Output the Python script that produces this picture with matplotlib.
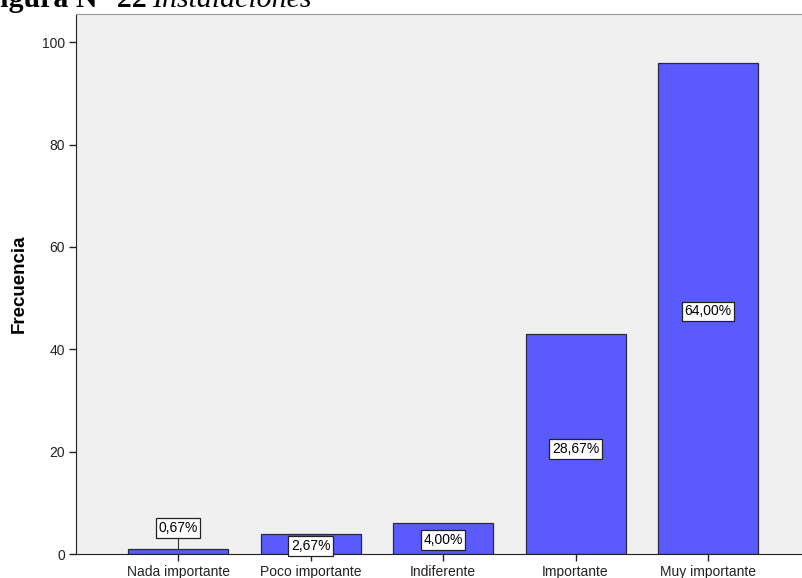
import numpy as np
import matplotlib.pyplot as plt

categorias = ['Nada importante', 'Poco importante', 'Indiferente', 'Importante', 'Muy importante']
frecuencias = [1, 4, 6, 43, 96]
porcentajes = ['0,67%', '2,67%', '4,00%', '28,67%', '64,00%']
# altura (en unidades de frecuencia) donde va cada etiqueta
pos_etiqueta = [5.1, 1.6, 2.7, 20.5, 47.4]

plt.rcParams['font.family'] = ['Liberation Sans', 'DejaVu Sans']

W, H = 803, 578
fig = plt.figure(figsize=(W / 100, H / 100), dpi=100)
ax = fig.add_axes([76 / W, 24 / H, (W - 76) / W, 540 / H])
ax.set_facecolor('#f0f0f0')

x = np.arange(len(categorias))
ax.bar(x, frecuencias, width=0.755, color='#5a5aff', edgecolor='#2a2a3a', linewidth=0.9, zorder=2)

for xi, f, txt, yl in zip(x, frecuencias, porcentajes, pos_etiqueta):
    if yl > f:
        ax.plot([xi, xi], [f, yl - 1.5], color='#333333', linewidth=0.8, zorder=3)
    ax.text(xi, yl, txt, ha='center', va='center', fontsize=10, zorder=4,
            bbox=dict(boxstyle='square,pad=0.2', facecolor='white', edgecolor='#222222', linewidth=0.9))

ax.set_xlim(-0.77, -0.77 + (W - 76) / 132.5)
ax.set_ylim(0, 105.5)
ax.set_xticks(x)
ax.set_xticklabels(categorias, fontsize=10)
ax.set_yticks([0, 20, 40, 60, 80, 100])
ax.tick_params(axis='both', direction='out', length=5, width=1, colors='#222222', labelsize=10, pad=3)
ax.set_ylabel('Frecuencia', fontsize=13.5, fontweight='bold')
ax.yaxis.set_label_coords(-48 / (W - 76), 0.5)

ax.spines['right'].set_visible(False)
ax.spines['top'].set_color('#999999')
ax.spines['left'].set_color('#222222')
ax.spines['bottom'].set_color('#222222')

# título recortado en la parte superior
fig.canvas.draw()
renderer = fig.canvas.get_renderer()
t_f = fig.text(0, 0, 'F', fontsize=21.5, fontweight='bold', family='Liberation Serif')
ancho_f = t_f.get_window_extent(renderer).width
t_f.remove()
y_base = 1 - 7 / H
t1 = fig.text(-ancho_f / W, y_base, 'Figura N° 22', fontsize=21.5, fontweight='bold',
              family='Liberation Serif', ha='left', va='baseline')
fin = t1.get_window_extent(renderer).x1
fig.text((fin + 6) / W, y_base, 'Instalaciones', fontsize=21.5, style='italic',
         family='Liberation Serif', ha='left', va='baseline')

fig.savefig('out.png', dpi=100)
